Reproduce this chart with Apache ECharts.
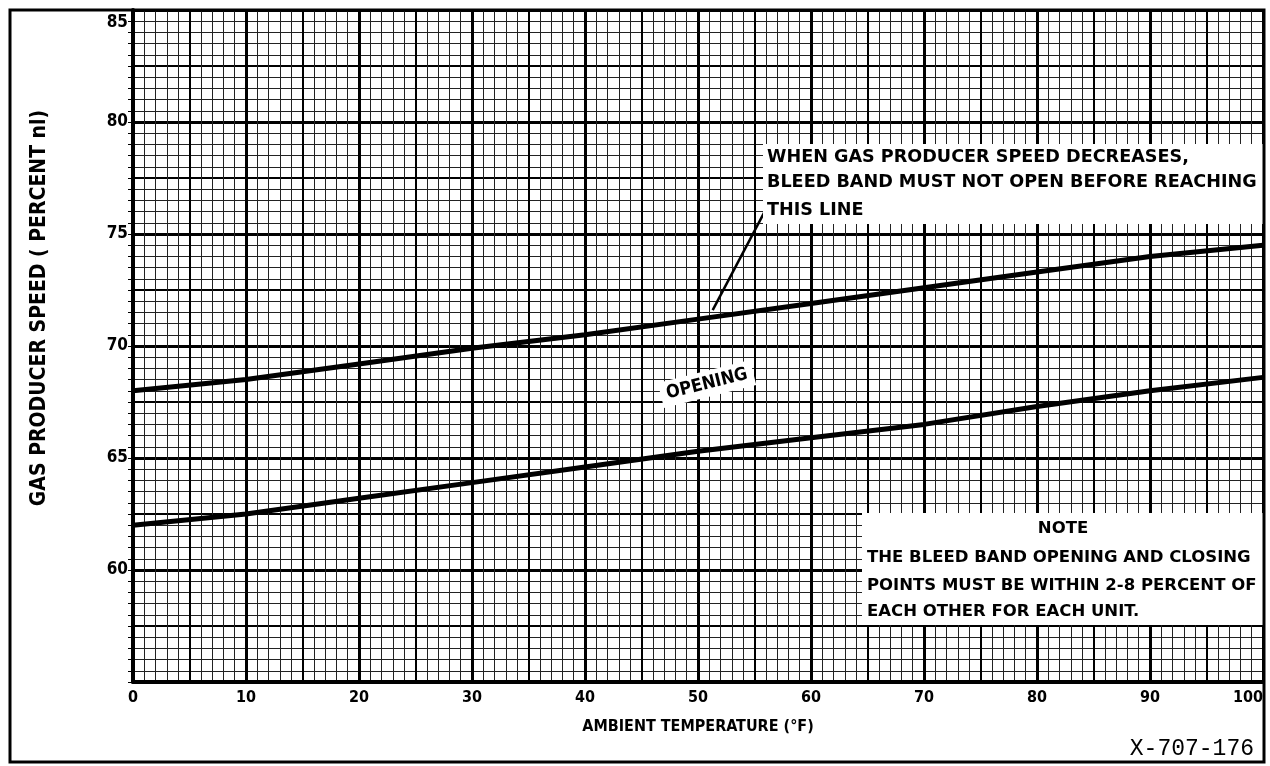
<!DOCTYPE html>
<html>
<head>
<meta charset="utf-8">
<script src="https://cdn.jsdelivr.net/npm/echarts@6/dist/echarts.min.js"></script>
<style>
  html, body { margin: 0; padding: 0; background: #fff; }
  #chart { width: 1270px; height: 766px; }
</style>
</head>
<body>
<div id="chart"></div>
<script>
// ambient temperature (F) and speed (percent nl)
var temps = [0, 10, 20, 30, 40, 50, 60, 70, 80, 90, 100];
var closingLine = [68, 68.5, 69.2, 69.9, 70.5, 71.2, 71.9, 72.6, 73.3, 74.0, 74.5];
var openingLine = [62, 62.5, 63.2, 63.9, 64.6, 65.3, 65.9, 66.5, 67.3, 68.0, 68.6];
// leader from the note text to the upper line
var leaderX = [51.3, 55.9];
var leaderY = [71.6, 76.0];

var xTicks = [0, 10, 20, 30, 40, 50, 60, 70, 80, 90, 100];
var yTicks = [60, 65, 70, 75, 80, 85];

function pairs(xs, ys) {
    var out = [];
    for (var i = 0; i < xs.length; i++) out.push([xs[i], ys[i]]);
    return out;
}

var font = '"DejaVu Sans Condensed", "DejaVu Sans", sans-serif';
var wide = '"DejaVu Sans", sans-serif';

var chart = echarts.init(document.getElementById('chart'));
chart.setOption({
    backgroundColor: '#fff',
    animation: false,
    grid: { left: 133, right: 7, top: 10, bottom: 84 },
    xAxis: [
        {
            type: 'value', min: 0, max: 100, interval: 10,
            axisLine: { show: true, lineStyle: { color: '#000', width: 4 } },
            axisTick: { show: false },
            axisLabel: {
                color: '#000', fontFamily: font, fontWeight: 'bold', fontSize: 16, margin: 8,
                alignMaxLabel: 'right',
                formatter: function (v) { return xTicks.indexOf(v) >= 0 ? String(v) : ''; }
            },
            splitLine: { show: true, lineStyle: { color: '#000', width: 3 } },
            minorTick: { show: false, splitNumber: 10 },
            minorSplitLine: { show: true, lineStyle: { color: '#222', width: 1 } }
        },
        {
            type: 'value', min: 0, max: 100, interval: 5, position: 'bottom',
            axisLine: { show: false }, axisTick: { show: false }, axisLabel: { show: false },
            splitLine: { show: true, lineStyle: { color: '#000', width: 2 } }
        }
    ],
    yAxis: [
        {
            type: 'value', min: 55, max: 85, interval: 5,
            axisLine: { show: true, lineStyle: { color: '#000', width: 4 } },
            axisTick: { show: true, length: 5, lineStyle: { color: '#000', width: 1 } },
            minorTick: { show: true, splitNumber: 10, length: 5, lineStyle: { color: '#000', width: 1 } },
            axisLabel: {
                color: '#000', fontFamily: font, fontWeight: 'bold', fontSize: 17, margin: 5,
                formatter: function (v) {
                    if (v === 85) return '{t|85}';
                    return yTicks.indexOf(v) >= 0 ? String(v) : '';
                },
                rich: { t: { color: '#000', fontFamily: font, fontWeight: 'bold', fontSize: 17, padding: [26, 0, 0, 0] } }
            },
            splitLine: { show: true, lineStyle: { color: '#000', width: 3 } },
            minorSplitLine: { show: true, lineStyle: { color: '#222', width: 1 } }
        },
        {
            type: 'value', min: 55, max: 85, interval: 2.5, position: 'left',
            axisLine: { show: false }, axisTick: { show: false }, axisLabel: { show: false },
            splitLine: { show: true, lineStyle: { color: '#000', width: 2 } }
        }
    ],
    series: [
        {
            name: 'closing', type: 'line', data: pairs(temps, closingLine),
            symbol: 'none', z: 5,
            lineStyle: { color: '#000', width: 5 }
        },
        {
            name: 'opening', type: 'line', data: pairs(temps, openingLine),
            symbol: 'none', z: 5,
            lineStyle: { color: '#000', width: 5 }
        },
        {
            name: 'leader', type: 'line', data: pairs(leaderX, leaderY),
            symbol: 'none', z: 5,
            lineStyle: { color: '#000', width: 2.5 }
        }
    ],
    graphic: [
        // outer frame
        { type: 'rect', z: 20, shape: { x: 10, y: 10, width: 1254, height: 752 },
          style: { fill: null, stroke: '#000', lineWidth: 3 } },
        // upper note
        { type: 'rect', z: 10, shape: { x: 763, y: 144, width: 500, height: 80 },
          style: { fill: '#fff', stroke: null } },
        { type: 'text', z: 11, left: 767, top: 148,
          style: { text: 'WHEN GAS PRODUCER SPEED DECREASES,', font: 'bold 17.6px ' + wide, fill: '#000' } },
        { type: 'text', z: 11, left: 767, top: 173,
          style: { text: 'BLEED BAND MUST NOT OPEN BEFORE REACHING', font: 'bold 17.6px ' + wide, fill: '#000' } },
        { type: 'text', z: 11, left: 767, top: 201,
          style: { text: 'THIS LINE', font: 'bold 17.6px ' + wide, fill: '#000' } },
        // lower note
        { type: 'rect', z: 10, shape: { x: 862, y: 513, width: 401, height: 112 },
          style: { fill: '#fff', stroke: null } },
        { type: 'text', z: 11, x: 1063, y: 529,
          style: { text: 'NOTE', font: 'bold 16.5px ' + wide, fill: '#000', align: 'center', verticalAlign: 'middle' } },
        { type: 'text', z: 11, left: 867, top: 549,
          style: { text: 'THE BLEED BAND OPENING AND CLOSING', font: 'bold 16.5px ' + wide, fill: '#000' } },
        { type: 'text', z: 11, left: 867, top: 577,
          style: { text: 'POINTS MUST BE WITHIN 2-8 PERCENT OF', font: 'bold 16.5px ' + wide, fill: '#000' } },
        { type: 'text', z: 11, left: 867, top: 603,
          style: { text: 'EACH OTHER FOR EACH UNIT.', font: 'bold 16.5px ' + wide, fill: '#000' } },
        // OPENING label
        { type: 'text', z: 11, x: 707, y: 384, rotation: 14 * Math.PI / 180,
          style: { text: 'OPENING', font: 'bold 18px ' + font, fill: '#000', align: 'center', verticalAlign: 'middle',
                   backgroundColor: '#fff', padding: [4, 6] } },
        // axis titles
        { type: 'text', z: 11, x: 40, y: 308, rotation: Math.PI / 2,
          style: { text: 'GAS PRODUCER SPEED ( PERCENT nl)', font: 'bold 21px ' + font, fill: '#000',
                   align: 'center', verticalAlign: 'middle' } },
        { type: 'text', z: 11, x: 698, y: 727,
          style: { text: 'AMBIENT TEMPERATURE (°F)', font: 'bold 16px ' + font, fill: '#000',
                   align: 'center', verticalAlign: 'middle' } },
        { type: 'text', z: 11, x: 1254, y: 749,
          style: { text: 'X-707-176', font: '23px "Liberation Mono", "DejaVu Sans Mono", monospace', fill: '#000',
                   align: 'right', verticalAlign: 'middle' } }
    ]
});
</script>
</body>
</html>
